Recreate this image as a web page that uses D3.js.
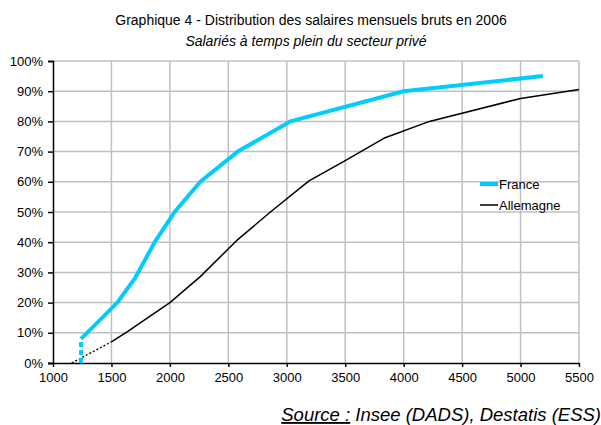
<!DOCTYPE html>
<html><head><meta charset="utf-8">
<script src="https://cdn.jsdelivr.net/npm/d3@7"></script>
<style>body{margin:0;background:#fff;}svg{display:block;font-family:"Liberation Sans",Arial,sans-serif;}</style>
</head><body>
<svg id="c" width="601" height="425"></svg>
<script>
const title = "Graphique 4 - Distribution des salaires mensuels bruts en 2006";
const subtitle = "Salariés à temps plein du secteur privé";
const xTicks = [1000,1500,2000,2500,3000,3500,4000,4500,5000,5500];
const yTicks = [0,0.1,0.2,0.3,0.4,0.5,0.6,0.7,0.8,0.9,1];
// France: dashed start, then solid
const franceDashX = [1240,1240];
const franceDashY = [0,0.08];
const franceX = [1240,1550,1700,1870,2040,2260,2580,3030,4000,5190];
const franceY = [0.08,0.20,0.28,0.40,0.50,0.60,0.70,0.80,0.90,0.95];
// Allemagne: dotted start, then solid
const allDotX = [1160,1500];
const allDotY = [0,0.07];
const allX = [1500,1640,2000,2260,2570,2860,3190,3500,3830,4220,5000,5500];
const allY = [0.07,0.105,0.20,0.286,0.405,0.50,0.603,0.67,0.744,0.80,0.876,0.906];

const svg = d3.select("#c");
const x = d3.scaleLinear().domain([1000,5500]).range([53,579]);
const y = d3.scaleLinear().domain([0,1]).range([363,61]);
const zip = (a,b)=>a.map((v,i)=>[v,b[i]]);
const line = d3.line().x(d=>x(d[0])).y(d=>y(d[1]));

// grid
svg.append("g").selectAll("line").data(xTicks.slice(1)).join("line")
  .attr("x1",d=>x(d)).attr("x2",d=>x(d)).attr("y1",y(0)).attr("y2",y(1))
  .attr("stroke","#c0c0c0").attr("stroke-width",1.5);
svg.append("g").selectAll("line").data(yTicks.slice(1)).join("line")
  .attr("x1",x(1000)).attr("x2",x(5500)).attr("y1",d=>y(d)).attr("y2",d=>y(d))
  .attr("stroke","#c0c0c0").attr("stroke-width",1.5);

// axes
const xa = svg.append("g").attr("transform",`translate(0,${y(0)})`)
  .call(d3.axisBottom(x).tickValues(xTicks).tickSize(4).tickPadding(6).tickFormat(d3.format("d")));
const ya = svg.append("g").attr("transform",`translate(${x(1000)},0)`)
  .call(d3.axisLeft(y).tickValues(yTicks).tickSize(5).tickPadding(5).tickFormat(d3.format(".0%")));
[xa,ya].forEach(a=>{
  a.select(".domain").attr("stroke","#000").attr("stroke-width",1.5);
  a.selectAll(".tick line").attr("stroke","#000").attr("stroke-width",1.5);
  a.selectAll("text").attr("font-size",13).attr("fill","#000").attr("font-family","Liberation Sans, Arial, sans-serif");
});
xa.select(".domain").attr("d",`M${x(1000)-5},0.5H${x(5500)}`);

// lines
svg.append("path").attr("d",line(zip(allDotX,allDotY))).attr("fill","none")
  .attr("stroke","#000").attr("stroke-width",1.3).attr("stroke-dasharray","2,2");
svg.append("path").attr("d",line(zip(allX,allY))).attr("fill","none")
  .attr("stroke","#000").attr("stroke-width",1.5).attr("stroke-linejoin","round");
svg.append("path").attr("d",line(zip(franceDashX,franceDashY))).attr("fill","none")
  .attr("stroke","#00ccff").attr("stroke-width",4).attr("stroke-dasharray","5,3");
svg.append("path").attr("d",line(zip(franceX,franceY))).attr("fill","none")
  .attr("stroke","#00ccff").attr("stroke-width",4).attr("stroke-linejoin","round");

// legend
const leg = [{n:"France",c:"#00ccff",w:4,y:184},{n:"Allemagne",c:"#000",w:1.5,y:205}];
const lg = svg.append("g");
leg.forEach(l=>{
  lg.append("line").attr("x1",480).attr("x2",498).attr("y1",l.y).attr("y2",l.y)
    .attr("stroke",l.c).attr("stroke-width",l.w);
  lg.append("text").attr("x",499).attr("y",l.y+4.5).attr("font-size",13).text(l.n);
});

// titles
svg.append("text").attr("x",311).attr("y",25).attr("text-anchor","middle").attr("font-size",14).text(title);
svg.append("text").attr("x",306).attr("y",46).attr("text-anchor","middle").attr("font-size",14).attr("font-style","italic").text(subtitle);

// source
const src = svg.append("text").attr("x",601).attr("y",421).attr("text-anchor","end").attr("font-size",18.5).attr("font-style","italic");
src.append("tspan").attr("text-decoration","underline").text("Source :");
src.append("tspan").text(" Insee (DADS), Destatis (ESS)");
</script>
</body></html>
